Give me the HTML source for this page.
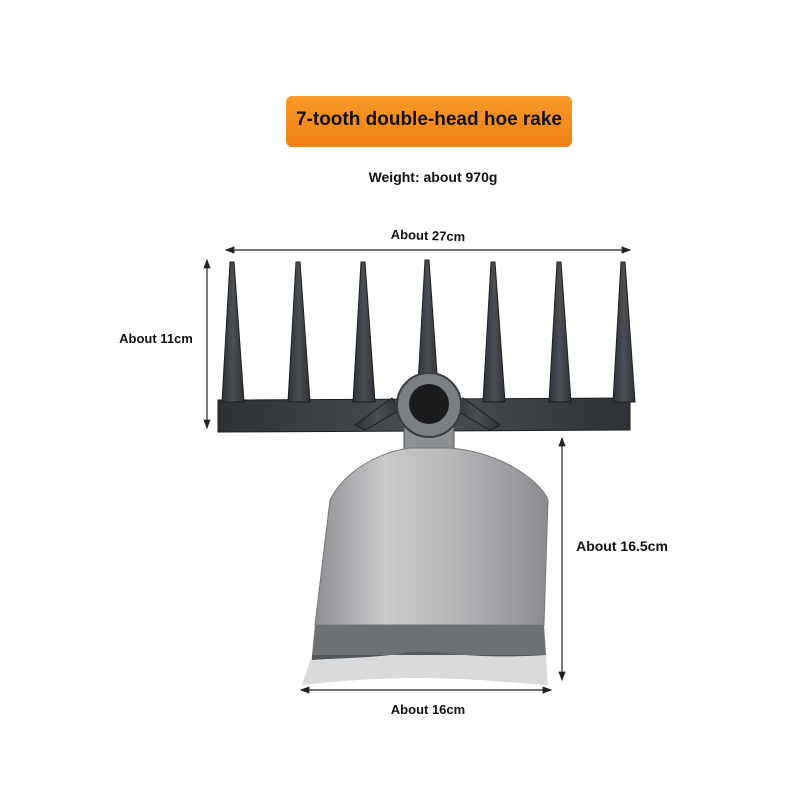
<!DOCTYPE html>
<html><head><meta charset="utf-8"><style>
html,body{margin:0;padding:0;background:#fff;}
svg{display:block;}
text{font-family:"Liberation Sans",sans-serif;font-weight:bold;fill:#111;}
</style></head><body>
<svg width="800" height="800" viewBox="0 0 800 800">
<defs>
<linearGradient id="og" x1="0" y1="0" x2="0" y2="1"><stop offset="0" stop-color="#f89a28"/><stop offset="1" stop-color="#f07f12"/></linearGradient>
<linearGradient id="blade" x1="0" y1="0" x2="1" y2="0"><stop offset="0" stop-color="#8d8f92"/><stop offset="0.3" stop-color="#c9cacc"/><stop offset="0.6" stop-color="#b4b6b8"/><stop offset="1" stop-color="#8a8c8f"/></linearGradient>
<linearGradient id="metal" x1="0" y1="0" x2="1" y2="0"><stop offset="0" stop-color="#2e3236"/><stop offset="0.5" stop-color="#4a4f54"/><stop offset="1" stop-color="#2e3236"/></linearGradient>
<marker id="ah" markerWidth="8" markerHeight="8" refX="7" refY="4" orient="auto-start-reverse"><path d="M0,1 L8,4 L0,7 Z" fill="#222"/></marker>
</defs>
<rect x="286" y="96" width="286" height="51" rx="6" fill="url(#og)"/>
<text x="429" y="125" font-size="19" text-anchor="middle">7-tooth double-head hoe rake</text>
<text x="433" y="182" font-size="14" text-anchor="middle">Weight: about 970g</text>

<line x1="226" y1="250" x2="630" y2="250" stroke="#222" stroke-width="1.2" marker-start="url(#ah)" marker-end="url(#ah)"/>
<rect x="378" y="224" width="100" height="20" fill="#fff"/>
<text x="428" y="240" font-size="13" text-anchor="middle" transform="rotate(2 428 236)">About 27cm</text>

<line x1="207" y1="260" x2="207" y2="428" stroke="#222" stroke-width="1.2" marker-start="url(#ah)" marker-end="url(#ah)"/>
<text x="156" y="343" font-size="13" text-anchor="middle">About 11cm</text>

<!-- rake -->
<g fill="url(#metal)" stroke="#1c1f22" stroke-width="1">
<path d="M218,400 L630,398 L630,430 L218,432 Z"/>
<path d="M222,402 L230,262 L234,262 L244,402 Z"/>
<path d="M288,402 L296,262 L300,262 L310,402 Z"/>
<path d="M353,402 L361,262 L365,262 L375,402 Z"/>
<path d="M417,402 L425,260 L429,260 L439,402 Z"/>
<path d="M483,402 L491,262 L495,262 L505,402 Z"/>
<path d="M549,402 L557,262 L561,262 L571,402 Z"/>
<path d="M613,402 L621,262 L625,262 L635,402 Z"/>
<path d="M355,425 L392,398 L400,410 L365,430 Z"/>
<path d="M500,425 L463,398 L455,410 L490,430 Z"/>
</g>
<rect x="404" y="410" width="50" height="40" fill="#8e9194" stroke="#555"/>
<circle cx="429" cy="405" r="32" fill="#7c8085" stroke="#3a3d40" stroke-width="2"/>
<circle cx="429" cy="404" r="20" fill="#1a1b1d"/>

<!-- blade -->
<path d="M410,448 L450,448 C500,452 540,480 548,500 L544,625 L315,625 L330,500 C345,470 380,452 410,448 Z" fill="url(#blade)" stroke="#777"/>
<path d="M315,625 L544,625 L546,655 L312,655 Z" fill="#6e7174"/>
<path d="M312,655 L546,655 L548,685 C470,680 420,672 302,685 Z" fill="#d9dadb"/>
<path d="M312,655 L546,655 C470,660 440,650 410,652 C380,658 340,658 312,660 Z" fill="#55585b"/>

<line x1="562" y1="438" x2="562" y2="680" stroke="#222" stroke-width="1.2" marker-start="url(#ah)" marker-end="url(#ah)"/>
<text x="622" y="551" font-size="14" text-anchor="middle">About 16.5cm</text>

<line x1="301" y1="690" x2="551" y2="690" stroke="#222" stroke-width="1.2" marker-start="url(#ah)" marker-end="url(#ah)"/>
<text x="428" y="714" font-size="13" text-anchor="middle">About 16cm</text>
</svg>
</body></html>
